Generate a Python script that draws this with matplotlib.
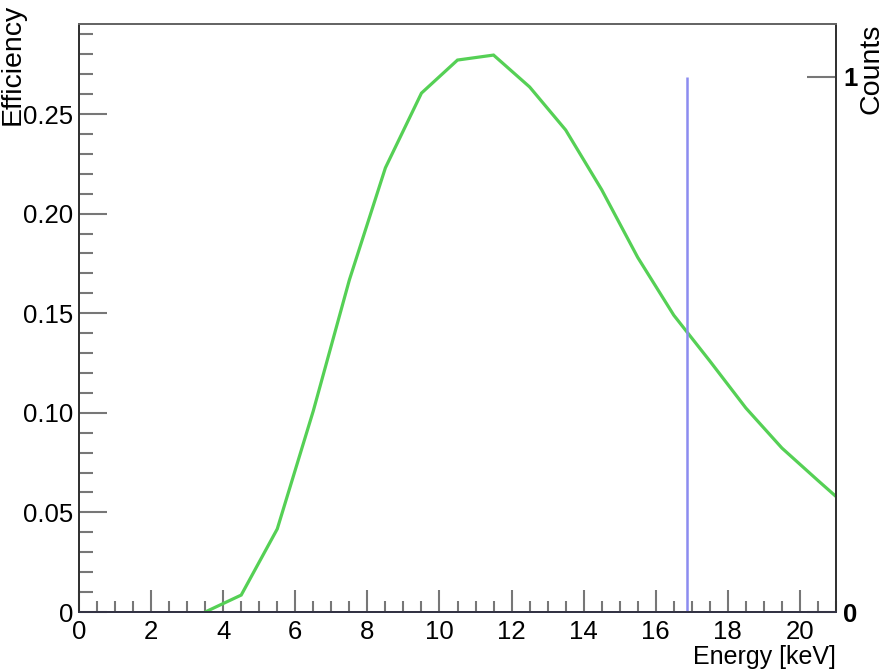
import matplotlib
matplotlib.use("Agg")
import matplotlib.pyplot as plt
from matplotlib.ticker import MultipleLocator, FuncFormatter, FixedLocator

# ---- data ----
energy = [3.5, 4.5, 5.5, 6.5, 7.5, 8.5, 9.5, 10.5, 11.5, 12.5, 13.5,
          14.5, 15.5, 16.5, 17.5, 18.5, 19.5, 20.5, 21.5]
efficiency = [0.0, 0.0085, 0.0417, 0.101, 0.1667, 0.223, 0.2605, 0.2771,
              0.2796, 0.2636, 0.242, 0.212, 0.178, 0.149, 0.126, 0.1024,
              0.0823, 0.066, 0.050]
hit_energy = [16.87]
hit_counts = [1]
x_ticks = [0, 2, 4, 6, 8, 10, 12, 14, 16, 18, 20]
eff_ticks = [0, 0.05, 0.10, 0.15, 0.20, 0.25]
count_ticks = [0, 1]

plt.rcParams['font.family'] = ['Liberation Sans', 'DejaVu Sans']

W, H = 896, 670
fig = plt.figure(figsize=(W / 100, H / 100), dpi=100)
L, R, B, T = 79, 836, 612, 24
ax = fig.add_axes([L / W, 1 - B / H, (R - L) / W, (B - T) / H])
ax2 = ax.twinx()

axis_dark = '#333333'
tick_gray = '#777777'

ax.plot(energy, efficiency, color='#55d055', lw=2.3, solid_joinstyle='miter', zorder=3)
ax.set_xlim(0, 21)
ax.set_ylim(0, 0.2952)
ax2.set_ylim(0, 1.099)

ax2.vlines(hit_energy, 0, hit_counts, color='#8c8cf0', lw=1.8)

# spines
for a in (ax, ax2):
    a.spines['top'].set_color('#666666')
    a.spines['bottom'].set_color('#333344')
    a.spines['left'].set_color(axis_dark)
    a.spines['right'].set_color(axis_dark)
    for s in a.spines.values():
        s.set_linewidth(1.4)

# x ticks
ax.xaxis.set_major_locator(FixedLocator(x_ticks))
ax.xaxis.set_minor_locator(MultipleLocator(0.5))
ax.tick_params(axis='x', which='major', direction='in', length=22 * 0.72,
               width=1.5, color=tick_gray, labelsize=18.5, pad=6, top=False)
ax.tick_params(axis='x', which='minor', direction='in', length=11 * 0.72,
               width=1.5, color=tick_gray, top=False)

# left y ticks
ax.yaxis.set_major_locator(FixedLocator(eff_ticks))
ax.yaxis.set_minor_locator(MultipleLocator(0.01))
ax.yaxis.set_major_formatter(FuncFormatter(lambda v, p: '0' if abs(v) < 1e-9 else f'{v:.2f}'))
ax.tick_params(axis='y', which='major', direction='in', length=28 * 0.72,
               width=1.5, color=tick_gray, labelsize=18.5, pad=4, right=False)
ax.tick_params(axis='y', which='minor', direction='in', length=14 * 0.72,
               width=1.5, color=tick_gray, right=False)

# right y ticks
ax2.yaxis.set_major_locator(FixedLocator(count_ticks))
ax2.yaxis.set_minor_locator(FixedLocator([]))
ax2.tick_params(axis='y', which='major', direction='in', length=29 * 0.72,
                width=1.5, color=tick_gray, labelsize=18.5, pad=5)
for lbl in ax2.get_yticklabels():
    lbl.set_fontweight('bold')

# titles
fig.text(13 / W, 1 - 4 / H, 'Efficiency', rotation=90, ha='center', va='top', fontsize=20.5)
fig.text(871 / W, 1 - 24 / H, 'Counts', rotation=90, ha='center', va='top', fontsize=20.5)
fig.text(836 / W, 1 - 664 / H, 'Energy [keV]', ha='right', va='baseline', fontsize=18)

fig.savefig('out.png', dpi=100)
